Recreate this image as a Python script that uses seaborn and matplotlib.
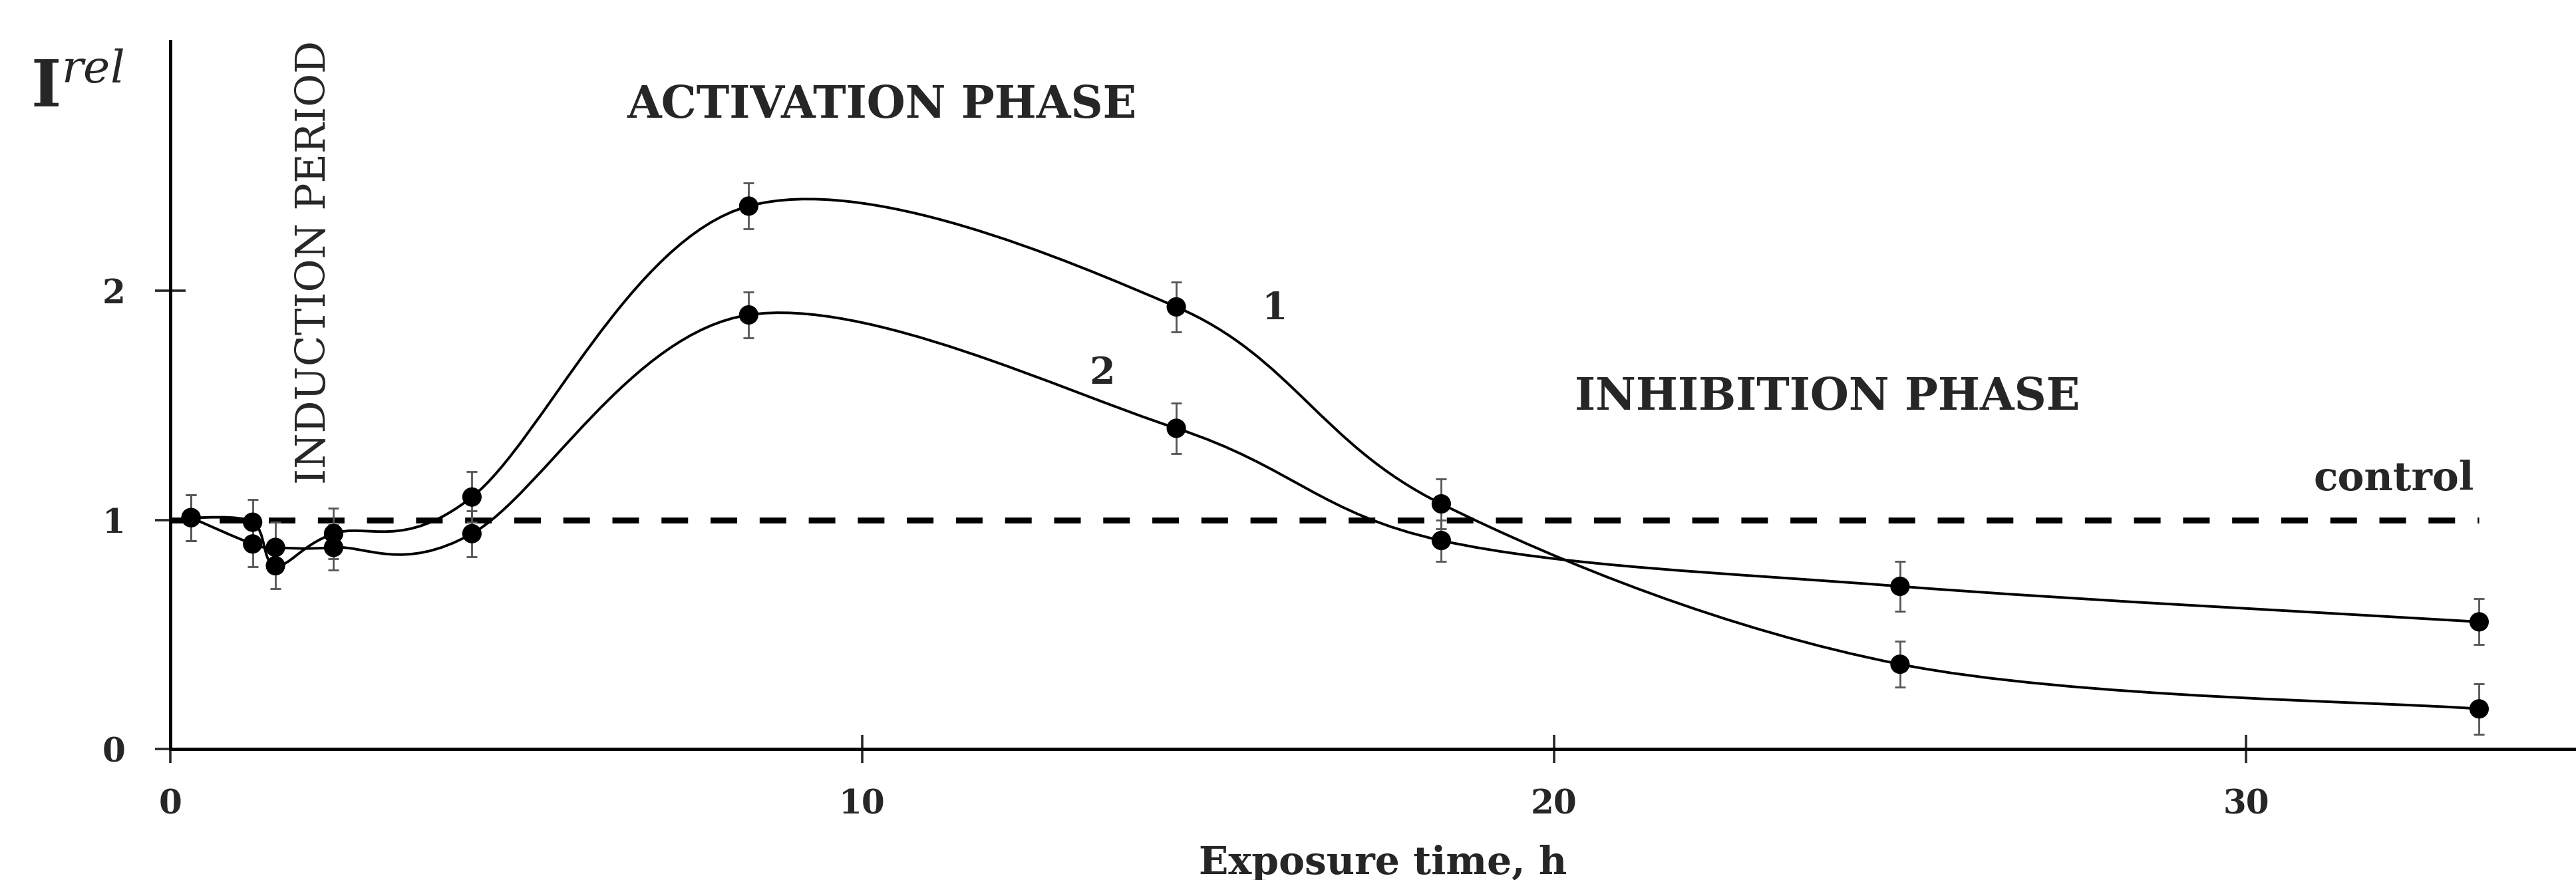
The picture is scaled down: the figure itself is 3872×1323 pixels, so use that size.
import numpy as np
import pandas as pd
import matplotlib
matplotlib.use("Agg")
import matplotlib.pyplot as plt
from matplotlib.path import Path
from matplotlib.patches import PathPatch
import seaborn as sns

# exposure time, h
time_h = [0.3, 1.19, 1.52, 2.36, 4.36, 8.36, 14.54, 18.37, 25.0, 33.37]
# relative intensity, curve 1 and curve 2
irel_1 = [1.01, 0.99, 0.80, 0.94, 1.10, 2.37, 1.93, 1.07, 0.37, 0.175]
irel_2 = [1.01, 0.895, 0.88, 0.88, 0.94, 1.895, 1.40, 0.91, 0.71, 0.555]
# error bars
err_1 = [0.10, 0.10, 0.10, 0.11, 0.11, 0.10, 0.11, 0.11, 0.10, 0.11]
err_2 = [0.10, 0.10, 0.11, 0.10, 0.10, 0.10, 0.11, 0.09, 0.11, 0.10]
control_level = 1.0

x_ticks = [0, 10, 20, 30]
y_ticks = [0, 1, 2]

df = pd.DataFrame({
    "time": time_h * 2,
    "irel": irel_1 + irel_2,
    "err": err_1 + err_2,
    "curve": ["1"] * len(time_h) + ["2"] * len(time_h),
})

sns.set_style("ticks")
plt.rcParams["font.family"] = ["DejaVu Serif"]
plt.rcParams["mathtext.fontset"] = "dejavuserif"


def smooth_path(x, y):
    # excel-like smoothed line: cubic bezier through the points
    pts = np.column_stack([x, y])
    n = len(pts)
    verts = [pts[0]]
    codes = [Path.MOVETO]
    for i in range(n - 1):
        p_prev = pts[i - 1] if i > 0 else pts[i]
        p_next = pts[i + 2] if i + 2 < n else pts[i + 1]
        c1 = pts[i] + (pts[i + 1] - p_prev) / 6
        c2 = pts[i + 1] - (p_next - pts[i]) / 6
        verts += [c1, c2, pts[i + 1]]
        codes += [Path.CURVE4] * 3
    return Path(verts, codes)


fig = plt.figure(figsize=(19.36, 6.615), dpi=200)
ax = fig.add_axes([0.0661, 0.1489, 0.9339, 0.8043])

# control line
ax.hlines(control_level, 0, time_h[-1], colors="black", linewidth=3.2,
          linestyles=(0, (4.5, 3.8)), zorder=1)

# smoothed curves
for name, grp in df.groupby("curve"):
    ax.add_patch(PathPatch(smooth_path(grp["time"], grp["irel"]),
                           facecolor="none", edgecolor="black",
                           linewidth=1.4, zorder=2))
    ax.errorbar(grp["time"], grp["irel"], yerr=grp["err"], fmt="none",
                ecolor="#555555", elinewidth=1.0, capsize=3, capthick=1.0,
                zorder=3)

sns.scatterplot(data=df, x="time", y="irel", hue="curve",
                palette=["black", "black"], s=110, edgecolor="black",
                linewidth=0, legend=False, zorder=4, ax=ax)

ax.set_xlim(0, 34.77)
ax.set_ylim(0, 3.09)
ax.set_xticks(x_ticks)
ax.set_yticks(y_ticks)
ax.set_xticklabels([str(t) for t in x_ticks], fontsize=18, fontweight="bold")
ax.set_yticklabels([str(t) for t in y_ticks], fontsize=18, fontweight="bold")
ax.tick_params(axis="x", direction="inout", length=15, width=1.3, pad=14)
ax.tick_params(axis="y", direction="inout", length=16.5, width=1.3, pad=16)
sns.despine(ax=ax)
for side in ["left", "bottom"]:
    ax.spines[side].set_linewidth(1.8)
    ax.spines[side].set_color("black")

ax.set_xlabel("Exposure time, h", fontsize=21, fontweight="bold")
ax.xaxis.set_label_coords(0.504, -0.135)
ax.set_ylabel("")

# annotations
ax.text(6.6, 2.81, "ACTIVATION PHASE", fontsize=24, fontweight="bold",
        ha="left", va="center")
ax.text(20.3, 1.535, "INHIBITION PHASE", fontsize=24, fontweight="bold",
        ha="left", va="center")
ax.text(2.08, 2.125, "INDUCTION PERIOD", fontsize=22, rotation=90,
        ha="center", va="center")
ax.text(33.3, 1.18, "control", fontsize=21.5, fontweight="bold",
        ha="right", va="center")
ax.text(15.96, 1.92, "1", fontsize=20, fontweight="bold", ha="center", va="center")
ax.text(13.47, 1.64, "2", fontsize=20, fontweight="bold", ha="center", va="center")

fig.text(0.0119, 0.878, r"$\mathbf{I}^{rel}$", fontsize=35, ha="left",
         va="baseline")

fig.savefig("out.png", dpi=200, facecolor="white")
